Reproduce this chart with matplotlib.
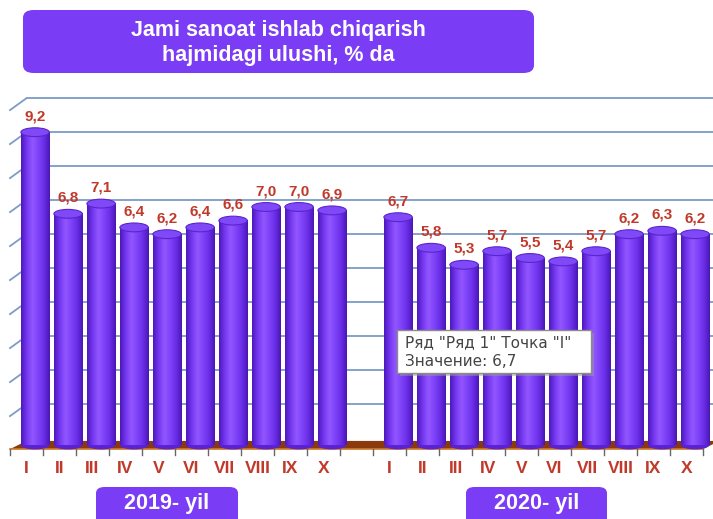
import matplotlib
matplotlib.use("Agg")
import matplotlib.pyplot as plt
import numpy as np
from matplotlib.colors import LinearSegmentedColormap
from matplotlib.patches import Ellipse, Polygon, FancyBboxPatch

months = ["I", "II", "III", "IV", "V", "VI", "VII", "VIII", "IX", "X"]
share_2019 = [9.2, 6.8, 7.1, 6.4, 6.2, 6.4, 6.6, 7.0, 7.0, 6.9]
share_2020 = [6.7, 5.8, 5.3, 5.7, 5.5, 5.4, 5.7, 6.2, 6.3, 6.2]
years = ["2019- yil", "2020- yil"]
title = "Jami sanoat ishlab chiqarish\nhajmidagi ulushi, % da"
tooltip = 'Ряд "Ряд 1" Точка "I"\nЗначение: 6,7'
grid_levels = list(range(1, 11))

W, H = 713, 519
fig = plt.figure(figsize=(W / 100, H / 100), dpi=100)


def fx(px):
    return px / W


def fy(py):
    return 1 - py / H


violet = "#7b3cf6"
red = "#c0392b"

ax = fig.add_axes([fx(10), fy(462), 693 / W, 374 / H])

# 10 months of 2019, an empty slot, 10 months of 2020
slots = list(range(10)) + list(range(11, 21))
values = share_2019 + share_2020
labels = months + months

depth = 0.26   # 3D shift of bars to the right
bw = 0.86
back = 0.2     # back wall offset for the grid

# back wall grid
for g in grid_levels:
    ax.plot([0, 21.5], [g + back, g + back], color="#7d9bc6", lw=1.3, zorder=1, clip_on=False)
    ax.plot([-0.5, 0], [g + back - 0.35, g + back], color="#7d9bc6", lw=1.3, zorder=1, clip_on=False)

# floor
floor = Polygon([(-0.5, -0.12), (20.5, -0.12), (21.0, 0.12), (0.0, 0.12)],
                closed=True, facecolor="#8a3a0c", edgecolor="none", zorder=2, clip_on=False)
ax.add_patch(floor)
ax.plot([-0.5, 20.5], [-0.12, -0.12], color="#d07a30", lw=1.2, zorder=2, clip_on=False)
for k in range(22):
    ax.plot([k - 0.5, k - 0.5], [-0.12, -0.3], color="#666666", lw=1, zorder=2, clip_on=False)

cmap = LinearSegmentedColormap.from_list(
    "cyl", ["#4d19bd", "#7538f0", "#9257ff", "#7e42f8", "#6a2ee8", "#4a16b4"])
grad = np.linspace(0, 1, 64).reshape(1, -1)

for s, v, lab in zip(slots, values, labels):
    xc = s + depth
    x0 = xc - bw / 2
    ax.add_patch(Ellipse((xc, 0.0), bw, 0.26, facecolor="#5a22d0", edgecolor="none",
                         zorder=3, clip_on=False))
    im = ax.imshow(grad, extent=[x0, x0 + bw, 0, v], aspect="auto", cmap=cmap,
                   interpolation="bicubic", zorder=3)
    im.set_clip_on(False)
    ax.add_patch(Ellipse((xc, v), bw, 0.26, facecolor="#8049f8", edgecolor="#5a24cc",
                         lw=0.8, zorder=4, clip_on=False))
    ax.text(xc, v + 0.47, f"{v:.1f}".replace(".", ","), color=red, fontsize=11,
            fontweight="bold", ha="center", va="center", zorder=5, family="Liberation Sans")
    ax.text(s, -0.68, lab, color=red, fontsize=12.5, fontweight="bold", ha="center",
            va="center", family="Liberation Sans", clip_on=False)

ax.set_xlim(-0.5, 20.5)
ax.set_ylim(-0.5, 10.5)
ax.axis("off")

# title box
fig.patches.append(FancyBboxPatch((fx(23), fy(73)), fx(534) - fx(23), fy(10) - fy(73),
                                  boxstyle="round,pad=0,rounding_size=0.015",
                                  transform=fig.transFigure, facecolor=violet, edgecolor="none"))
fig.text(fx(278), fy(43), title, color="white", fontsize=15.5, fontweight="bold",
         ha="center", va="center", family="Liberation Sans", linespacing=1.2)

# year boxes
for label, left, right in zip(years, [96, 466], [238, 607]):
    fig.patches.append(FancyBboxPatch((fx(left), fy(530)), fx(right) - fx(left), fy(487) - fy(530),
                                      boxstyle="round,pad=0,rounding_size=0.012",
                                      transform=fig.transFigure, facecolor=violet,
                                      edgecolor="none"))
    fig.text(fx((left + right) / 2), fy(503), label, color="white", fontsize=15.5,
             fontweight="bold", ha="center", va="center", family="Liberation Sans")

# tooltip
fig.patches.append(FancyBboxPatch((fx(400), fy(376)), fx(594) - fx(400), fy(333) - fy(376),
                                  boxstyle="square,pad=0", transform=fig.transFigure,
                                  facecolor="#9a9a9a", edgecolor="none", alpha=0.5, zorder=9))
fig.patches.append(FancyBboxPatch((fx(397), fy(373)), fx(591) - fx(397), fy(330) - fy(373),
                                  boxstyle="square,pad=0", transform=fig.transFigure,
                                  facecolor="white", edgecolor="#8c8c8c", lw=1, zorder=10))
fig.text(fx(405), fy(352), tooltip, color="#444444", fontsize=11, ha="left", va="center",
         family="DejaVu Sans", linespacing=1.3, zorder=11)

fig.savefig("out.png", dpi=100)
